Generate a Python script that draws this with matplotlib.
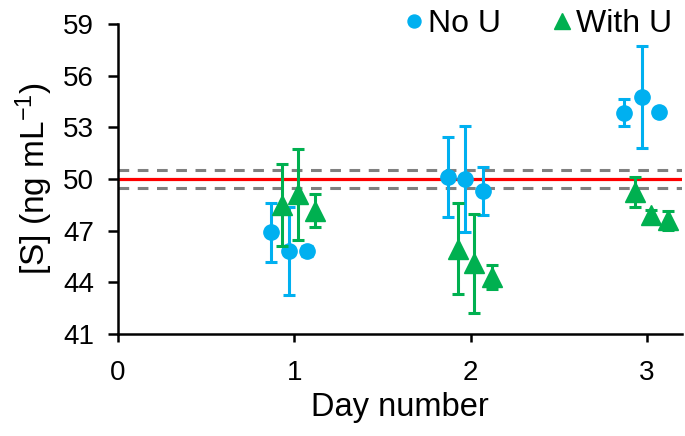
import matplotlib.pyplot as plt

plt.rcParams["font.family"] = ["Liberation Sans", "DejaVu Sans"]
plt.rcParams["mathtext.fontset"] = "custom"
plt.rcParams["mathtext.rm"] = "Liberation Sans"
plt.rcParams["mathtext.it"] = "Liberation Sans:italic"

# No U series (jittered day positions)
no_u_x = [0.87, 0.97, 1.07, 1.87, 1.97, 2.07, 2.87, 2.97, 3.07]
no_u_y = [46.9, 45.8, 45.8, 50.13, 50.02, 49.29, 53.85, 54.76, 53.9]
no_u_err = [1.7, 2.55, 0.3, 2.33, 3.08, 1.39, 0.8, 2.98, 0.2]

# With U series
with_u_x = [0.93, 1.02, 1.12, 1.93, 2.02, 2.12, 2.93, 3.02, 3.12]
with_u_y = [48.48, 49.1, 48.15, 45.95, 45.1, 44.3, 49.25, 47.9, 47.6]
with_u_err = [2.4, 2.65, 0.95, 2.65, 2.87, 0.7, 0.87, 0.3, 0.55]

target = 50
band = [49.5, 50.5]

blue = "#00B0F0"
green = "#00B050"

fig = plt.figure(figsize=(6.85, 4.36), dpi=100)
ax = fig.add_axes([0.172, 0.234, 0.824, 0.711])

ax.axhline(target, color="#FF0000", lw=2.3, zorder=1)
for b in band:
    ax.axhline(b, color="#808080", lw=2.2, ls=(0, (3.5, 2.8)), zorder=1)

ax.errorbar(no_u_x, no_u_y, yerr=no_u_err, fmt="o", color=blue, ms=11,
            elinewidth=2.2, capsize=4.5, capthick=2.2, label="No U", zorder=3)
ax.errorbar(with_u_x, with_u_y, yerr=with_u_err, fmt="^", color=green, ms=14,
            elinewidth=2.2, capsize=4.5, capthick=2.2, label="With U", zorder=4)

ax.set_xlim(0, 3.2)
ax.set_ylim(41, 59)
ax.set_xticks([0, 1, 2, 3])
ax.set_yticks(range(41, 60, 3))
ax.tick_params(labelsize=20, width=1.8, direction="out")
ax.tick_params(axis="x", length=6, pad=13)
ax.tick_params(axis="y", length=7, pad=10)

for side in ["top", "right"]:
    ax.spines[side].set_visible(False)
for side in ["left", "bottom"]:
    ax.spines[side].set_linewidth(1.8)

ax.set_xlabel("Day number", fontsize=23.5, labelpad=4)
ax.set_ylabel("[S] (ng mL$^{-1}$)", fontsize=24, labelpad=6)

handles, labels = ax.get_legend_handles_labels()
handles = [h[0] for h in handles]
ax.legend(handles, labels, loc="upper right", bbox_to_anchor=(1.005, 1.09),
          ncol=2, frameon=False, fontsize=23, handlelength=0.6,
          handletextpad=0.15, columnspacing=1.6, markerscale=0.85,
          borderaxespad=0)

fig.savefig("out.png", dpi=100)
